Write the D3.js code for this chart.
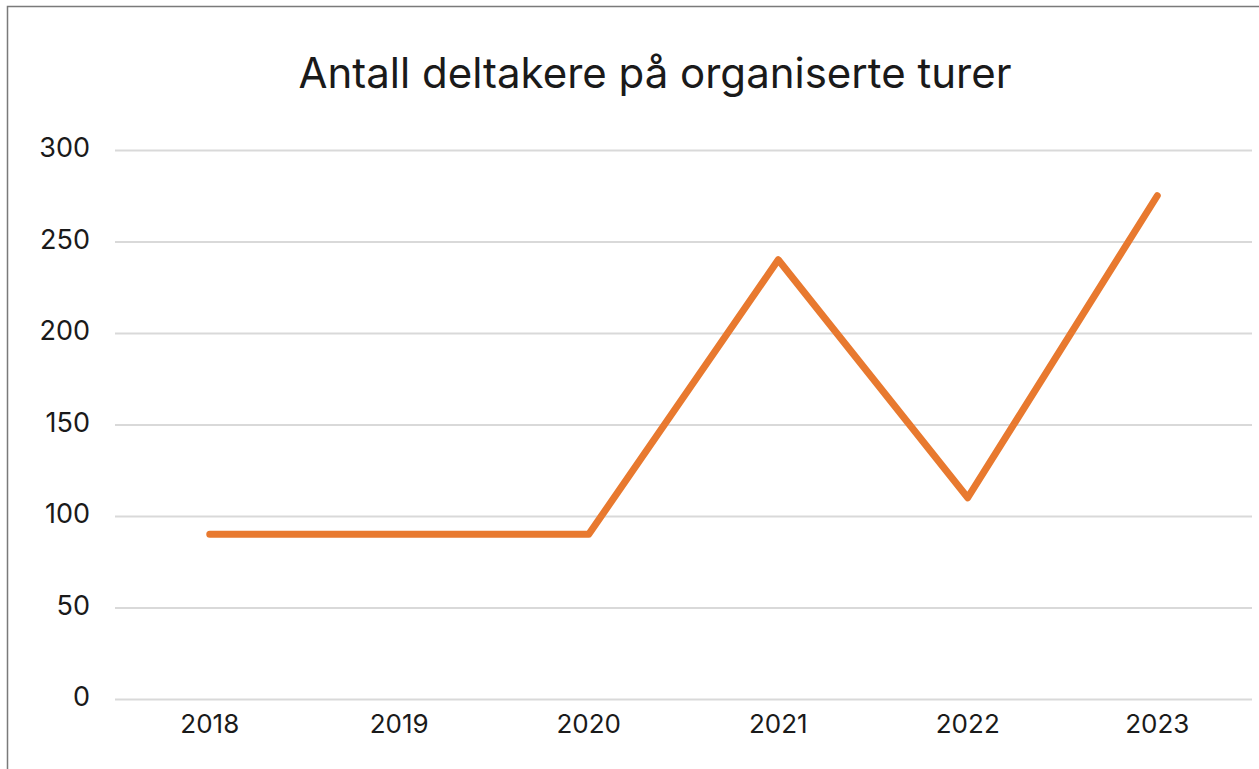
<!DOCTYPE html>
<html>
<head>
<meta charset="utf-8">
<script src="https://cdn.jsdelivr.net/npm/d3@7"></script>
<style>
  html, body { margin: 0; padding: 0; background: #fff; }
  svg { display: block; font-family: Inter, "Open Sans", sans-serif; }
</style>
</head>
<body>
<svg id="chart" width="1259" height="769"></svg>
<script>
// ── Data ────────────────────────────────────────────────────
const years = ['2018', '2019', '2020', '2021', '2022', '2023'];
const participants = [90, 90, 90, 240, 110, 275];
const yTicks = [0, 50, 100, 150, 200, 250, 300];
const title = 'Antall deltakere på organiserte turer';

const COLORS = {
  line: '#E8792F',
  grid: '#D9D9D9',
  text: '#1A1A1A',
  frame: '#7A7A7A'
};

const svg = d3.select('#chart');
const W = 1259, H = 769;
const margin = { left: 115, right: 7, top: 150, bottom: 70 };

// Outer frame (left and top edges only visible in the crop)
svg.append('path')
  .attr('d', `M7.5,${H} V6.5 H${W}`)
  .attr('fill', 'none')
  .attr('stroke', COLORS.frame)
  .attr('stroke-width', 1.5);

// ── Scales ──────────────────────────────────────────────────
const x = d3.scaleBand()
  .domain(years)
  .range([margin.left, W - margin.right])
  .padding(0);

const y = d3.scaleLinear()
  .domain([0, 300])
  .range([H - margin.bottom, margin.top]);

// ── Title ───────────────────────────────────────────────────
svg.append('text')
  .attr('x', 655)
  .attr('y', 88)
  .attr('text-anchor', 'middle')
  .attr('font-size', '42px')
  .attr('fill', COLORS.text)
  .text(title);

// ── Y axis: gridlines + labels ──────────────────────────────
const yAxis = d3.axisLeft(y)
  .tickValues(yTicks)
  .tickSize(-(W - margin.right - margin.left))
  .tickPadding(25);

const yG = svg.append('g')
  .attr('transform', `translate(${margin.left},0)`)
  .call(yAxis);

yG.select('.domain').remove();
yG.selectAll('.tick line')
  .attr('stroke', COLORS.grid)
  .attr('stroke-width', 2);
yG.selectAll('.tick text')
  .attr('font-family', 'Inter, sans-serif')
  .attr('font-size', '27px')
  .attr('dy', '0.25em')
  .attr('fill', COLORS.text);

// ── X axis labels ───────────────────────────────────────────
const xAxis = d3.axisBottom(x)
  .tickSize(0)
  .tickPadding(16);

const xG = svg.append('g')
  .attr('transform', `translate(0,${H - margin.bottom})`)
  .call(xAxis);

xG.select('.domain').remove();
xG.selectAll('.tick text')
  .attr('font-family', 'Inter, sans-serif')
  .attr('font-size', '26px')
  .attr('fill', COLORS.text);

// ── Line ────────────────────────────────────────────────────
const line = d3.line()
  .x((d, i) => x(years[i]) + x.bandwidth() / 2)
  .y(d => y(d));

svg.append('path')
  .datum(participants)
  .attr('d', line)
  .attr('fill', 'none')
  .attr('stroke', COLORS.line)
  .attr('stroke-width', 7)
  .attr('stroke-linecap', 'round')
  .attr('stroke-linejoin', 'round');
</script>
</body>
</html>
